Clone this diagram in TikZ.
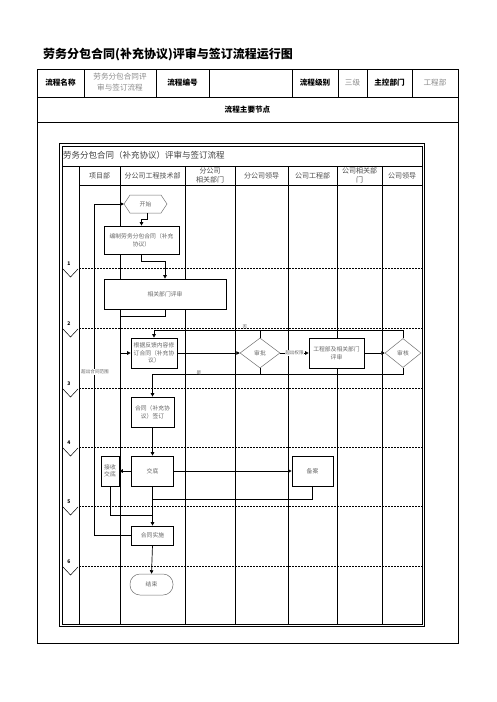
\documentclass[tikz,border=0pt]{standalone}
\usepackage{fontspec}
\setmainfont{Noto Sans CJK SC}
\usetikzlibrary{shapes.geometric,arrows.meta,calc}
\begin{document}
\begin{tikzpicture}[x=1pt,y=-1pt,
  frame/.style={line width=0.8pt},
  lane/.style={line width=0.7pt},
  phase/.style={line width=0.5pt, dash pattern=on 2pt off 1pt},
  hdrb/.style={font=\fontsize{7.6}{9}\selectfont\bfseries, inner sep=0pt},
  hdrg/.style={font=\fontsize{7.6}{11}\selectfont, text=black!45, align=center, inner sep=0pt},
  lanehd/.style={font=\fontsize{7}{8.5}\selectfont, text=black!70, align=center, inner sep=0pt},
  box/.style={draw, fill=white, line width=0.7pt, inner sep=0pt, align=center, text=black!60, font=\fontsize{5.8}{7.6}\selectfont},
  dia/.style={diamond, draw=black!55, fill=white, line width=0.5pt, inner sep=0pt, text=black!60, font=\fontsize{5.8}{7}\selectfont},
  soft/.style={draw=none, inner sep=0pt, text=black!60, font=\fontsize{5.8}{7}\selectfont},
  arr/.style={line width=0.7pt, -{Triangle[length=3.5pt,width=3.5pt]}},
  ln/.style={line width=0.7pt},
  lbl/.style={font=\fontsize{4.6}{5}\selectfont, text=black!60, inner sep=0.4pt},
  num/.style={font=\fontsize{5}{5}\selectfont\bfseries, inner sep=0pt}]
\useasboundingbox (0,0) rectangle (496,702);
\fill[white] (0,0) rectangle (496,702);
% title
\node[anchor=west, font=\fontsize{12}{14}\selectfont\bfseries, inner sep=0pt] (title) at (43,55) {劳务分包合同(补充协议)评审与签订流程运行图};
% header table
\draw[frame] (37,69) rectangle (458,643);
\draw[frame] (37,97) -- (458,97);
\draw[frame] (37,122) -- (458,122);
\foreach \x in {84,156,209,292,338,367,412} \draw[frame] (\x,69) -- (\x,97);
\node[hdrb] (h1) at (60.5,83) {流程名称};
\node[hdrg] (h2) at (120,82) {劳务分包合同评\\审与签订流程};
\node[hdrb] (h3) at (182.5,83) {流程编号};
\node[hdrb] (h4) at (315,83) {流程级别};
\node[hdrg] (h5) at (352.5,83) {三级};
\node[hdrb] (h6) at (389.5,83) {主控部门};
\node[hdrg] (h7) at (435,83) {工程部};
\node[hdrb] (h8) at (247.5,109.5) {流程主要节点};
% inner frame
\draw[frame] (59.5,143.5) rectangle (424.5,626.5);
\draw[frame] (62,146) rectangle (422,624);
\draw[lane] (62,166) -- (422,166);
\draw[lane] (79,185) -- (422,185);
\foreach \x in {79,120,185,235,288,337,382} \draw[lane] (\x,166) -- (\x,624);
\node[anchor=west, font=\fontsize{8.5}{10}\selectfont, text=black!75, inner sep=0pt] (ftitle) at (63,155.5) {劳务分包合同（补充协议）评审与签订流程};
\node[lanehd] (l1) at (99.5,176) {项目部};
\node[lanehd] (l2) at (152.5,176) {分公司工程技术部};
\node[lanehd] (l3) at (210,175.5) {分公司\\相关部门};
\node[lanehd] (l4) at (261.5,176) {分公司领导};
\node[lanehd] (l5) at (312.5,176) {公司工程部};
\node[lanehd] (l6) at (359.5,175.5) {公司相关部\\门};
\node[lanehd] (l7) at (402,176) {公司领导};
% phases
\foreach \y/\n in {268/1,328/2,388/3,447/4,506/5,566/6}{
  \draw[phase] (79,\y) -- (422,\y);
  \draw[line width=0.5pt] (63,\y+1) -- (70.5,\y+9) -- (78,\y+1);
  \node[num] at (69,\y-4) {\n};
}
% nodes
\filldraw[fill=white, draw=black!55, line width=0.5pt] (124,204) -- (130,195) -- (161,195) -- (167,204) -- (161,213) -- (130,213) -- cycle;
\node[soft, minimum width=43pt, minimum height=18pt] (start) at (145.5,204) {开始};
\node[box, minimum width=75pt, minimum height=28pt] (edit) at (141.5,240) {编制劳务分包合同（补充\\协议）};
\node[box, minimum width=122pt, minimum height=30pt] (review) at (165,294) {相关部门评审};
\node[box, minimum width=46pt, minimum height=30pt] (revise) at (154,353) {根据反馈内容修\\订合同（补充协\\议）};
\node[dia, minimum width=40pt, minimum height=30pt] (approve) at (260,353) {审批};
\node[box, minimum width=55pt, minimum height=30pt] (eng) at (336.5,353) {工程部及相关部门\\评审};
\node[dia, minimum width=36pt, minimum height=29pt] (audit) at (403,353) {审核};
\node[box, minimum width=43pt, minimum height=30pt] (sign) at (152.5,412) {合同（补充协\\议）签订};
\node[box, minimum width=42pt, minimum height=30pt] (brief) at (152.5,471) {交底};
\node[box, minimum width=18pt, minimum height=30pt] (recv) at (110,471) {接收\\交底};
\node[box, minimum width=41pt, minimum height=30pt] (file) at (312.5,471) {备案};
\node[box, minimum width=42pt, minimum height=19pt] (impl) at (152.5,535.5) {合同实施};
\node[draw=black!55, fill=white, line width=0.5pt, rounded corners=10pt, minimum width=43pt, minimum height=21pt, inner sep=0pt, text=black!60, font=\fontsize{5.8}{7}\selectfont] (stop) at (151.5,584.5) {结束};
% connectors
\draw[arr] ([xshift=1.5pt]start.south) -- ++(0,6) -| (edit.north);
\draw[arr] (edit.south) -- ++(0,7) -| (review.north);
\draw[arr] (review.south) -- ++(0,7) -| ([xshift=-10pt]revise.west) -- (revise.west);
\draw[arr] (revise.east) -- (approve.west);
\draw[arr] (approve.east) -- node[lbl, fill=white] {超出权限} (eng.west);
\draw[arr] (eng.east) -- (audit.west);
\draw[arr] (approve.north) -- ++(0,-7) -| (revise.north);
\node[lbl] (no) at (245,327) {否};
\draw[ln] (audit.north) |- ($(approve.north)+(0,-7)$);
\draw[arr] (approve.south) -- ++(0,6) -| (sign.north);
\node[lbl] (yes) at (199,373) {是};
\draw[ln] (audit.south) |- ($(approve.south)+(0,6)$);
\draw[arr] (sign.south) -- (brief.north);
\draw[arr] (brief.west) -- (recv.east);
\draw[arr] (brief.east) -- (file.west);
\draw[arr] (brief.south) -- (impl.north);
\coordinate (j1) at (152.5,499);
\coordinate (j2) at (152.5,515);
\draw[ln] (file.south) |- (j1);
\draw[ln] (recv.south) |- (j2);
\draw[arr] (impl.south) -- (stop.north);
\draw[arr] (impl.west) -| ([xshift=-29pt]start.west) -- (start.west);
\node[lbl, fill=white] (scope) at (95,372) {超出合同范围};
\end{tikzpicture}
\end{document}
